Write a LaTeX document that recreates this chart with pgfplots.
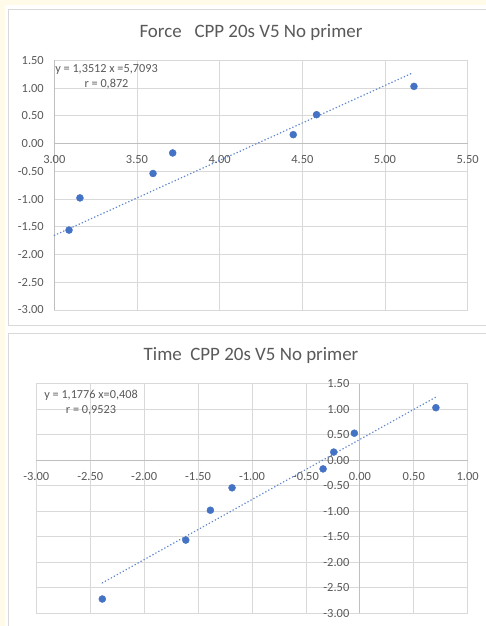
\documentclass[border=0pt]{standalone}
\usepackage{pgfplots}
\pgfplotsset{compat=1.18}
\usepackage{fontspec}
\setmainfont{Carlito}
\definecolor{bgy}{HTML}{FFFBE8}
\definecolor{grd}{HTML}{D9D9D9}
\definecolor{axl}{HTML}{BFBFBF}
\definecolor{txt}{HTML}{595959}
\definecolor{dot}{HTML}{4472C4}
\definecolor{bord}{HTML}{D9D9D9}

\pgfplotstableread{
x y
3.089 -1.56
3.155 -0.98
3.597 -0.54
3.716 -0.17
4.445 0.16
4.586 0.52
5.175 1.03
}\forcedata

\pgfplotstableread{
x y
-2.388 -2.72
-1.614 -1.565
-1.386 -0.98
-1.185 -0.54
-0.341 -0.17
-0.242 0.16
-0.051 0.53
0.705 1.03
}\timedata

\pgfplotsset{myax/.style={
  scale only axis, anchor=north west,
  grid=major, major grid style={grd, line width=0.75bp},
  tick style={draw=none},
  axis line style={axl, line width=0.75bp},
  hide obscured x ticks=false, hide obscured y ticks=false,
  ymin=-3, ymax=1.5,
  ytick={-3,-2.5,-2,-1.5,-1,-0.5,0,0.5,1,1.5},
  ticklabel style={font=\fontsize{12.5}{13}\selectfont, text=txt},
  xticklabel style={yshift=-8.5bp},
  yticklabel style={xshift=-7bp},
  /pgf/number format/fixed,
  /pgf/number format/fixed zerofill,
  /pgf/number format/precision=2,
  /pgf/number format/assume math mode=true,
  clip=false,
}}

\begin{document}
\begin{tikzpicture}
\useasboundingbox (0,0) rectangle (486bp,-626bp);
\fill[bgy] (0,0) rectangle (486bp,-626bp);
\fill[white] (5bp,-5bp) rectangle (486bp,-626bp);
\draw[bord, line width=1bp] (8.5bp,-9.5bp) rectangle (492bp,-325bp);
\draw[bord, line width=1bp] (8.5bp,-333.5bp) rectangle (492bp,-632bp);

\node[text=txt, font=\fontsize{19}{21}\selectfont] at (251bp,-32.3bp) {Force\ \ \ CPP 20s V5 No primer};
\node[text=txt, font=\fontsize{19}{21}\selectfont] at (251bp,-355.7bp) {Time\ \ CPP 20s V5 No primer};

\begin{axis}[myax, at={(54.3bp,-60.3bp)}, width=413.4bp, height=249.7bp,
  xmin=3, xmax=5.5, xtick={3,3.5,4,4.5,5,5.5},
  axis x line*=middle, axis y line*=left]
\addplot[dot!85, line width=1.4bp, line cap=round, dash pattern=on 0.4bp off 3bp] coordinates {(3.0,-1.656) (5.16,1.263)};
\addplot[only marks, mark=*, mark size=3.5bp, mark options={draw=dot, fill=dot}] table[x=x,y=y] {\forcedata};
\end{axis}
\node[text=txt, font=\fontsize{12.3}{14.3}\selectfont, align=center] at (106.5bp,-76.8bp) {y = 1,3512 x =5,7093\\r = 0,872};

\begin{axis}[myax, at={(36.3bp,-383.7bp)}, width=431.4bp, height=229.6bp,
  xmin=-3, xmax=1, xtick={-3,-2.5,-2,-1.5,-1,-0.5,0,0.5,1},
  axis x line*=middle, axis y line*=middle]
\addplot[dot!85, line width=1.4bp, line cap=round, dash pattern=on 0.4bp off 3bp] coordinates {(-2.388,-2.404) (0.717,1.252)};
\addplot[only marks, mark=*, mark size=3.5bp, mark options={draw=dot, fill=dot}] table[x=x,y=y] {\timedata};
\end{axis}
\node[text=txt, font=\fontsize{12.3}{14.7}\selectfont, align=center] at (91bp,-402.7bp) {y = 1,1776 x=0,408\\r = 0,9523};
\end{tikzpicture}
\end{document}
